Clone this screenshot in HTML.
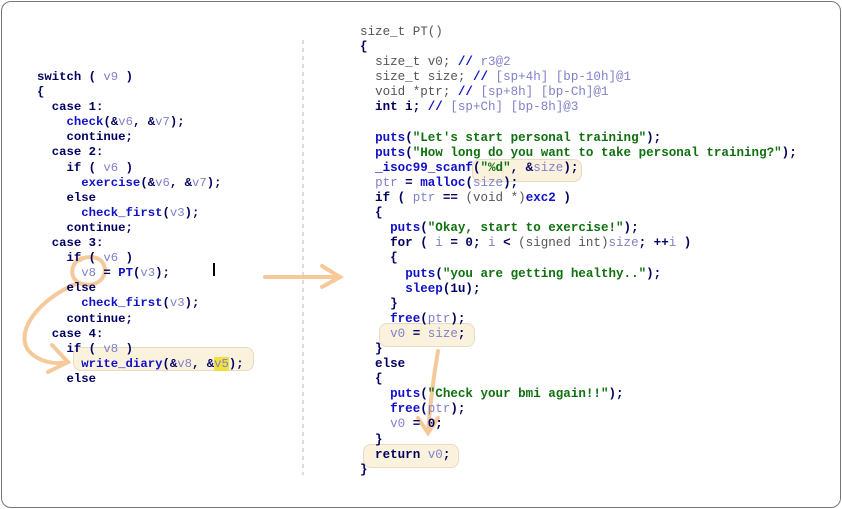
<!DOCTYPE html>
<html><head><meta charset="utf-8"><style>
body{margin:0;width:842px;height:509px;background:#fff;position:relative;overflow:hidden;font-family:"Liberation Mono",monospace;}
#frame{position:absolute;left:1px;top:1px;width:838px;height:505px;border:1px solid #777;border-radius:10px;}
pre{position:absolute;margin:0;font:bold 12.3px/15.1px "Liberation Mono",monospace;color:#000060;white-space:pre;}
.f{color:#1010c8}.v{color:#8080c8;font-weight:normal}.s{color:#107010}.g{color:#555;font-weight:normal}.c{color:#1010c8}
.hl{position:absolute;background:#fbf2de;border:1px solid #e6dcc4;border-radius:8px;}
.y{background:#f0e040}
</style></head><body>
<div id="frame"></div>
<div class="hl" style="left:73px;top:347px;width:179px;height:22px"></div>
<div class="hl" style="left:472px;top:159px;width:108px;height:21px"></div>
<div class="hl" style="left:379px;top:323px;width:94px;height:22px"></div>
<div class="hl" style="left:363px;top:444px;width:94px;height:22px"></div>
<svg style="position:absolute;left:0;top:0" width="842" height="509">
<line x1="303" y1="40" x2="303" y2="475" stroke="#bbb" stroke-dasharray="4,4"/>
<g fill="none" stroke="#f5c08a" stroke-width="4" stroke-linecap="round" opacity="0.85">
<path d="M82 258 C70 262 68 280 82 284 C98 288 108 276 104 265 C100 256 88 255 80 260"/>
<path d="M78 283 C40 298 15 330 28 350 C38 362 55 365 68 362"/>
<path d="M52 345 L68 362 L48 372"/>
<path d="M265 277 L338 277"/>
<path d="M322 266 L340 277 L322 287"/>
<path d="M438 351 C433 380 430 405 428 432"/>
<path d="M418 418 L428 433 L438 418"/>
</g>
</svg>
<pre style="left:37px;top:70px">switch ( <span class="v">v9</span> )
{
  case 1:
    <span class="f">check</span>(&amp;<span class="v">v6</span>, &amp;<span class="v">v7</span>);
    continue;
  case 2:
    if ( <span class="v">v6</span> )
      <span class="f">exercise</span>(&amp;<span class="v">v6</span>, &amp;<span class="v">v7</span>);
    else
      <span class="f">check_first</span>(<span class="v">v3</span>);
    continue;
  case 3:
    if ( <span class="v">v6</span> )
      <span class="v">v8</span> = <span class="f">PT</span>(<span class="v">v3</span>);
    else
      <span class="f">check_first</span>(<span class="v">v3</span>);
    continue;
  case 4:
    if ( <span class="v">v8</span> )
      <span class="f">write_diary</span>(&amp;<span class="v">v8</span>, &amp;<span class="v y">v5</span>);
    else</pre>
<div style="position:absolute;left:213px;top:263px;width:2px;height:13px;background:#000"></div>
<pre style="left:360px;top:25px;font-size:12.55px"><span class="g">size_t PT()</span>
{
  <span class="g">size_t v0;</span> <span class="c">//</span> <span class="v">r3@2</span>
  <span class="g">size_t size;</span> <span class="c">//</span> <span class="v">[sp+4h] [bp-10h]@1</span>
  <span class="g">void *ptr;</span> <span class="c">//</span> <span class="v">[sp+8h] [bp-Ch]@1</span>
  int i; <span class="c">//</span> <span class="v">[sp+Ch] [bp-8h]@3</span>

  <span class="f">puts</span>(<span class="s">"Let's start personal training"</span>);
  <span class="f">puts</span>(<span class="s">"How long do you want to take personal training?"</span>);
  <span class="f">_isoc99_scanf</span>(<span class="s">"%d"</span>, &amp;<span class="v">size</span>);
  <span class="v">ptr</span> = <span class="f">malloc</span>(<span class="v">size</span>);
  if ( <span class="v">ptr</span> == <span class="g">(void *)</span><span class="f">exc2</span> )
  {
    <span class="f">puts</span>(<span class="s">"Okay, start to exercise!"</span>);
    for ( <span class="v">i</span> = 0; <span class="v">i</span> &lt; <span class="g">(signed int)</span><span class="v">size</span>; ++<span class="v">i</span> )
    {
      <span class="f">puts</span>(<span class="s">"you are getting healthy.."</span>);
      <span class="f">sleep</span>(1u);
    }
    <span class="f">free</span>(<span class="v">ptr</span>);
    <span class="v">v0</span> = <span class="v">size</span>;
  }
  else
  {
    <span class="f">puts</span>(<span class="s">"Check your bmi again!!"</span>);
    <span class="f">free</span>(<span class="v">ptr</span>);
    <span class="v">v0</span> = 0;
  }
  return <span class="v">v0</span>;
}</pre>
</body></html>
